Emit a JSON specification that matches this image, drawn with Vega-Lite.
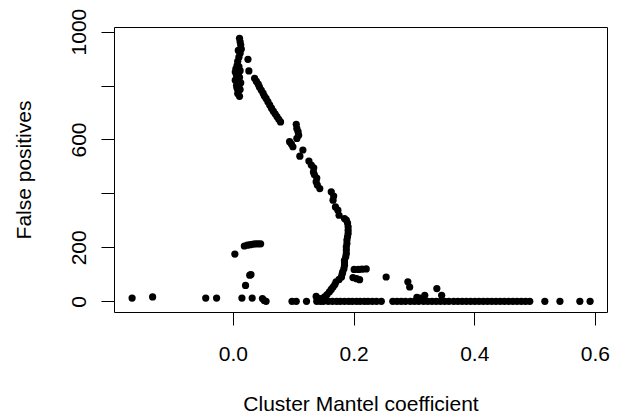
{
  "$schema": "https://vega.github.io/schema/vega-lite/v6.json",
  "width": 493,
  "height": 285,
  "autosize": {"type": "none"},
  "padding": {"left": 114, "top": 27, "right": 12, "bottom": 101},
  "background": "white",
  "config": {
    "view": {"stroke": "black", "strokeWidth": 1},
    "font": "Liberation Sans"
  },
  "data": {
    "values": [
      {"x":0.011,"y":975},{"x":0.012,"y":962},{"x":0.013,"y":950},{"x":0.014,"y":935},{"x":0.012,"y":920},{"x":0.010,"y":905},{"x":0.008,"y":890},{"x":0.007,"y":875},{"x":0.005,"y":862},{"x":0.004,"y":850},{"x":0.006,"y":838},{"x":0.009,"y":845},{"x":0.011,"y":830},{"x":0.008,"y":815},{"x":0.006,"y":800},{"x":0.007,"y":790},{"x":0.010,"y":795},{"x":0.009,"y":780},{"x":0.008,"y":770},{"x":0.011,"y":760},{"x":0.012,"y":785},{"x":0.013,"y":810},{"x":0.010,"y":870},{"x":0.012,"y":855},{"x":0.004,"y":820},{"x":0.009,"y":930},
      {"x":0.025,"y":897},{"x":0.0265,"y":854},
      {"x":0.036,"y":827},{"x":0.039,"y":815},{"x":0.042,"y":805},{"x":0.044,"y":795},{"x":0.047,"y":783},{"x":0.050,"y":772},{"x":0.052,"y":762},{"x":0.055,"y":752},{"x":0.058,"y":740},{"x":0.061,"y":728},{"x":0.064,"y":716},{"x":0.067,"y":705},{"x":0.070,"y":695},{"x":0.073,"y":685},{"x":0.076,"y":675},{"x":0.079,"y":665},
      {"x":0.105,"y":656},{"x":0.106,"y":641},{"x":0.108,"y":629},{"x":0.109,"y":616},{"x":0.106,"y":604},{"x":0.094,"y":592},{"x":0.097,"y":583},{"x":0.0995,"y":573},{"x":0.116,"y":561},{"x":0.111,"y":538},{"x":0.126,"y":520},{"x":0.130,"y":505},{"x":0.134,"y":495},{"x":0.1335,"y":479},{"x":0.135,"y":470},{"x":0.139,"y":457},{"x":0.138,"y":443},{"x":0.140,"y":431},{"x":0.144,"y":418},
      {"x":0.163,"y":406},{"x":0.167,"y":390},{"x":0.166,"y":375},{"x":0.170,"y":350},{"x":0.174,"y":338},{"x":0.176,"y":319},{"x":0.185,"y":307},{"x":0.188,"y":301},{"x":0.190,"y":290},{"x":0.191,"y":276},{"x":0.191,"y":263},{"x":0.191,"y":251},{"x":0.190,"y":239},{"x":0.189,"y":227},{"x":0.189,"y":214},{"x":0.188,"y":202},{"x":0.188,"y":190},{"x":0.188,"y":177},{"x":0.187,"y":165},{"x":0.185,"y":152},{"x":0.185,"y":143},{"x":0.185,"y":134},{"x":0.184,"y":121},{"x":0.182,"y":109},{"x":0.181,"y":100},{"x":0.180,"y":90},{"x":0.176,"y":81},{"x":0.171,"y":72},{"x":0.169,"y":62},{"x":0.166,"y":53},{"x":0.163,"y":44},{"x":0.160,"y":35},{"x":0.156,"y":25},{"x":0.152,"y":16},{"x":0.144,"y":10},{"x":0.138,"y":18},{"x":0.139,"y":0},{"x":0.149,"y":10},
      {"x":0.201,"y":118},{"x":0.208,"y":118},{"x":0.214,"y":119},{"x":0.221,"y":120},{"x":0.199,"y":88},{"x":0.205,"y":84},{"x":0.210,"y":80},
      {"x":0.254,"y":90},{"x":0.290,"y":72},{"x":0.293,"y":53},{"x":0.338,"y":47},{"x":0.318,"y":22},{"x":0.305,"y":15},{"x":0.346,"y":22},{"x":0.310,"y":12},
      {"x":-0.167,"y":12},{"x":-0.133,"y":16},{"x":-0.045,"y":12},{"x":-0.027,"y":12},{"x":0.0033,"y":175},{"x":0.015,"y":12},{"x":0.032,"y":12},{"x":0.021,"y":59},{"x":0.028,"y":97},{"x":0.030,"y":99},{"x":0.049,"y":10},{"x":0.055,"y":0},{"x":0.052,"y":3},
      {"x":0.019,"y":205},{"x":0.024,"y":208},{"x":0.029,"y":210},{"x":0.034,"y":212},{"x":0.038,"y":213},{"x":0.042,"y":213},{"x":0.046,"y":213},
      {"x":0.098,"y":0},{"x":0.105,"y":0},{"x":0.122,"y":0},{"x":0.145,"y":0},{"x":0.150,"y":0},{"x":0.158,"y":0},{"x":0.165,"y":0},{"x":0.172,"y":0},{"x":0.178,"y":0},{"x":0.185,"y":0},{"x":0.192,"y":0},{"x":0.198,"y":0},{"x":0.205,"y":0},{"x":0.211,"y":0},{"x":0.218,"y":0},{"x":0.224,"y":0},{"x":0.231,"y":0},{"x":0.238,"y":0},{"x":0.246,"y":0},
      {"x":0.265,"y":0},{"x":0.272,"y":0},{"x":0.279,"y":0},{"x":0.286,"y":0},{"x":0.294,"y":0},{"x":0.301,"y":0},{"x":0.308,"y":0},{"x":0.316,"y":0},{"x":0.323,"y":0},{"x":0.330,"y":0},{"x":0.337,"y":0},{"x":0.344,"y":0},{"x":0.351,"y":0},{"x":0.358,"y":0},{"x":0.366,"y":0},{"x":0.373,"y":0},{"x":0.380,"y":0},{"x":0.387,"y":0},{"x":0.394,"y":0},{"x":0.401,"y":0},{"x":0.408,"y":0},{"x":0.415,"y":0},{"x":0.422,"y":0},{"x":0.429,"y":0},{"x":0.436,"y":0},{"x":0.443,"y":0},{"x":0.450,"y":0},{"x":0.457,"y":0},{"x":0.464,"y":0},{"x":0.471,"y":0},{"x":0.478,"y":0},{"x":0.485,"y":0},{"x":0.492,"y":0},
      {"x":0.517,"y":0},{"x":0.542,"y":0},{"x":0.575,"y":0},{"x":0.592,"y":0}
    ]
  },
  "mark": {"type": "point", "filled": true, "color": "black", "size": 52, "opacity": 1, "strokeWidth": 0},
  "encoding": {
    "x": {
      "field": "x", "type": "quantitative",
      "scale": {"domain": [-0.197, 0.620], "nice": false, "zero": false},
      "axis": {
        "title": "Cluster Mantel coefficient",
        "values": [0, 0.2, 0.4, 0.6],
        "format": ".1f",
        "grid": false, "domain": false,
        "tickSize": 13, "tickColor": "black", "tickWidth": 1,
        "labelFontSize": 21, "labelColor": "black", "labelPadding": 18,
        "labelFlush": false, "labelOverlap": false,
        "titleFontSize": 21, "titleFontWeight": "normal", "titleColor": "black",
        "titleBaseline": "alphabetic", "titleY": 98
      }
    },
    "y": {
      "field": "y", "type": "quantitative",
      "scale": {"domain": [-39.7, 1017], "nice": false, "zero": false},
      "axis": {
        "title": "False positives",
        "values": [0, 200, 400, 600, 800, 1000],
        "format": "d",
        "labelExpr": "datum.value == 400 || datum.value == 800 ? '' : datum.label",
        "grid": false, "domain": false,
        "tickSize": 13, "tickColor": "black", "tickWidth": 1,
        "labelFontSize": 21, "labelColor": "black", "labelPadding": 16,
        "labelAngle": -90, "labelAlign": "center", "labelBaseline": "alphabetic",
        "labelFlush": false, "labelOverlap": false,
        "titleFontSize": 21, "titleFontWeight": "normal", "titleColor": "black",
        "titleAngle": -90, "titleBaseline": "alphabetic", "titleX": -84
      }
    }
  }
}
